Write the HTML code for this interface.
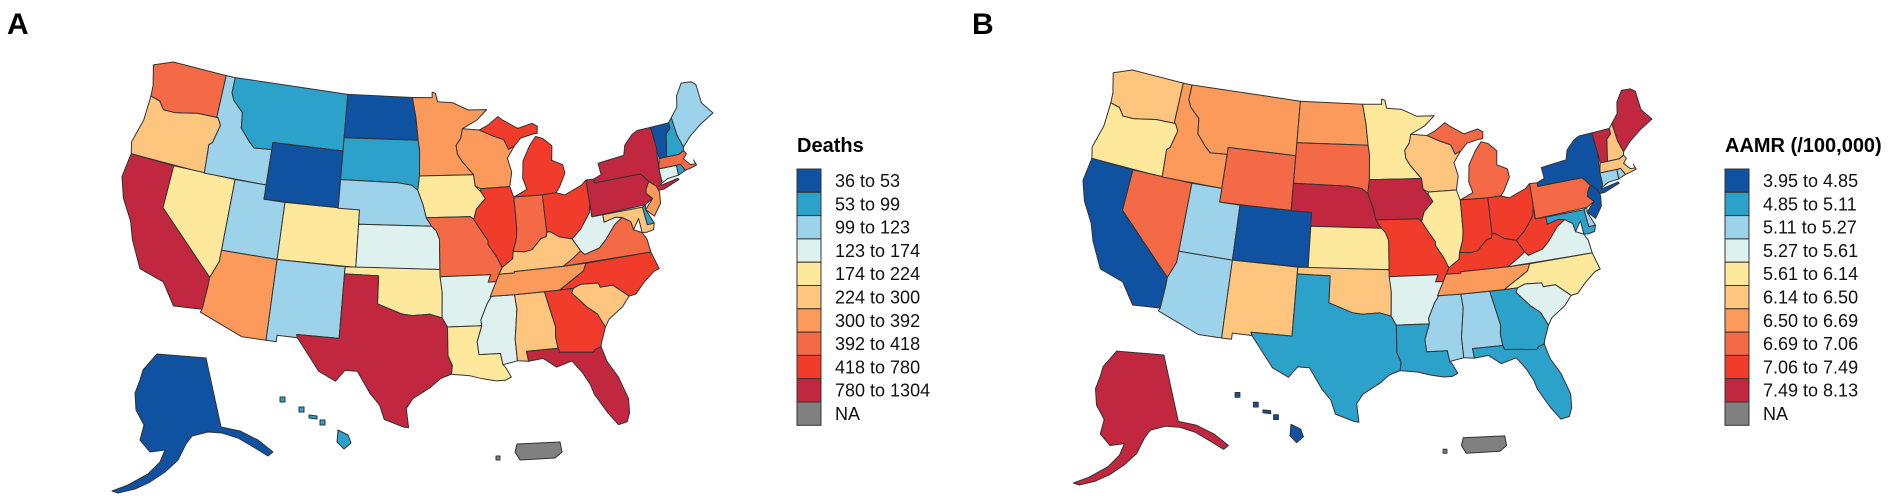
<!DOCTYPE html>
<html><head><meta charset="utf-8">
<style>
html,body{margin:0;padding:0;background:#fff;}
body{width:1902px;height:503px;overflow:hidden;font-family:"Liberation Sans",Arial,sans-serif;}
svg{display:block;}
</style></head>
<body>
<svg id="fig" width="1902" height="503" viewBox="0 0 1902 503" xmlns="http://www.w3.org/2000/svg">
<rect width="1902" height="503" fill="#fff"/>
<text x="7" y="34" font-size="30" font-weight="bold" font-family="Liberation Sans, Arial, sans-serif">A</text>
<text x="972" y="34" font-size="30" font-weight="bold" font-family="Liberation Sans, Arial, sans-serif">B</text>
<g id="mapA"></g>
<g id="mapB"></g>
<g id="legA"></g>
<g id="legB"></g>
</svg>
<script>
const states = ["WA","OR","CA","NV","ID","MT","WY","UT","CO","AZ","NM","ND","SD","NE","KS","OK","TX","MN","IA","MO","AR","LA","MS","AL","WI","IL","MI","MIU","IN","OH","KY","TN","WV","VA","NC","SC","GA","FL","PA","NY","NJ","DE","MD","CT","RI","MA","VT","NH","ME","AK","HI","PR"];
const deathsValues = [405,260,1100,200,110,80,45,115,210,350,105,40,70,105,150,200,1250,330,190,410,150,200,150,260,330,600,550,550,405,650,270,340,160,410,520,280,500,1200,900,950,330,70,270,160,70,410,40,70,110,45,75,null];
const aamrValues = [6.3,5.9,4.5,6.9,6.6,6.6,6.9,5.2,4.4,5.2,6.3,6.6,6.9,7.8,5.9,6.3,5.0,5.9,7.8,7.3,5.4,5.0,5.2,5.2,6.3,5.9,6.9,6.9,7.3,7.3,7.3,6.6,7.3,5.4,5.9,5.4,5.0,5.0,6.9,4.5,4.5,5.2,5.0,5.2,5.2,6.3,7.8,6.3,7.8,7.8,4.5,null];
const deathsBreaks = [36,53,99,123,174,224,300,392,418,780,1304];
const aamrBreaks = [3.95,4.85,5.11,5.27,5.61,6.14,6.50,6.69,7.06,7.49,8.13];
const deathsLabels = ["36 to 53","53 to 99","99 to 123","123 to 174","174 to 224","224 to 300","300 to 392","392 to 418","418 to 780","780 to 1304","NA"];
const aamrLabels = ["3.95 to 4.85","4.85 to 5.11","5.11 to 5.27","5.27 to 5.61","5.61 to 6.14","6.14 to 6.50","6.50 to 6.69","6.69 to 7.06","7.06 to 7.49","7.49 to 8.13","NA"];
const palette = ["#0f52a1","#2ca1c9","#9dd3ea","#dff1ee","#fee89b","#fdc57e","#fb9a5a","#f46a46","#f13c2b","#c1273e"];
const naColor = "#808080";

const geo = {
WA:[[-124.7,48.4],[-122.8,49],[-117.03,49],[-117.03,46.0],[-116.9,45.99],[-119,45.95],[-121.2,45.6],[-122.4,45.57],[-123.0,46.1],[-124.0,46.25],[-124.1,47.0]],
OR:[[-124.0,46.25],[-123.0,46.1],[-122.4,45.57],[-121.2,45.6],[-119,45.95],[-116.9,45.99],[-116.5,45.5],[-116.9,44.2],[-117.2,44.0],[-117.03,42],[-124.2,42],[-124.5,42.8],[-124.0,44.5]],
CA:[[-124.2,42],[-120,42],[-120,39],[-114.6,35.0],[-114.6,34.3],[-114.7,32.72],[-117.1,32.53],[-118.4,34.0],[-120.6,34.5],[-121.9,36.3],[-122.5,37.5],[-123.7,38.9],[-124.4,40.3]],
NV:[[-120,42],[-114.04,42],[-114.04,36.2],[-114.6,35.0],[-120,39]],
ID:[[-117.03,49],[-116.05,49],[-116.05,47.9],[-115.7,47.4],[-114.6,46.7],[-114.4,45.6],[-113.4,44.8],[-112.8,44.4],[-111.05,44.5],[-111.05,42],[-117.03,42],[-117.2,44.0],[-116.9,44.2],[-116.5,45.5],[-116.9,45.99],[-117.03,46.0]],
MT:[[-116.05,49],[-104.05,49],[-104.05,45],[-111.05,45],[-111.05,44.5],[-112.8,44.4],[-113.4,44.8],[-114.4,45.6],[-114.6,46.7],[-115.7,47.4],[-116.05,47.9]],
WY:[[-111.05,45],[-104.05,45],[-104.05,41],[-111.05,41]],
UT:[[-114.04,42],[-111.05,42],[-111.05,41],[-109.05,41],[-109.05,37],[-114.04,37]],
CO:[[-109.05,41],[-102.05,41],[-102.05,37],[-109.05,37]],
AZ:[[-114.04,37],[-109.05,37],[-109.05,31.33],[-111.07,31.33],[-114.8,32.5],[-114.7,32.72],[-114.6,34.3],[-114.6,35.0],[-114.04,36.2]],
NM:[[-109.05,37],[-103.0,37],[-103.06,32.0],[-106.6,32.0],[-106.5,31.78],[-108.2,31.78],[-108.2,31.33],[-109.05,31.33]],
ND:[[-104.05,49],[-97.23,49],[-96.85,47.6],[-96.6,46.0],[-104.05,45.94]],
SD:[[-104.05,45.94],[-96.6,46.0],[-96.45,45.3],[-96.45,43.5],[-96.6,42.5],[-97.2,42.85],[-98.5,43.0],[-104.05,43.0]],
NE:[[-104.05,43.0],[-98.5,43.0],[-97.2,42.85],[-96.6,42.5],[-96.1,41.5],[-95.8,40.6],[-95.3,40.0],[-102.05,40.0],[-102.05,41],[-104.05,41]],
KS:[[-102.05,40],[-95.3,40],[-94.9,39.7],[-94.6,39.1],[-94.6,37],[-102.05,37]],
OK:[[-103.0,37],[-94.6,37],[-94.43,35.4],[-94.48,33.64],[-95.5,33.9],[-97.0,33.8],[-97.9,33.9],[-99.5,34.4],[-100.0,34.56],[-100.0,36.5],[-103.0,36.5]],
TX:[[-103.0,36.5],[-100.0,36.5],[-100.0,34.56],[-99.5,34.4],[-97.9,33.9],[-97.0,33.8],[-95.5,33.9],[-94.48,33.64],[-94.04,33.0],[-94.04,31.0],[-93.7,30.3],[-93.8,29.7],[-94.7,29.4],[-95.5,28.8],[-96.9,28.0],[-97.4,27.3],[-97.2,25.95],[-97.6,26.0],[-99.1,26.5],[-99.5,27.5],[-100.3,28.3],[-101.4,29.8],[-102.4,29.8],[-103.1,29.0],[-104.5,29.6],[-106.5,31.78],[-106.6,32.0],[-103.06,32.0]],
MN:[[-97.23,49],[-95.15,49],[-95.15,49.38],[-94.8,49.3],[-94.6,48.7],[-93.0,48.6],[-91.4,48.05],[-89.5,48.0],[-90.6,47.3],[-92.1,46.75],[-92.3,46.1],[-92.8,45.6],[-92.7,45.0],[-92.3,44.5],[-91.2,43.5],[-96.45,43.5],[-96.45,45.3],[-96.6,46.0],[-96.85,47.6]],
IA:[[-96.45,43.5],[-91.2,43.5],[-91.1,42.7],[-90.6,42.3],[-90.2,41.8],[-91.1,41.1],[-91.4,40.4],[-91.7,40.6],[-95.8,40.6],[-96.1,41.5],[-96.6,42.5]],
MO:[[-95.8,40.6],[-91.7,40.6],[-91.4,40.4],[-90.7,39.5],[-90.2,38.9],[-90.2,38.6],[-89.5,37.7],[-89.1,36.95],[-89.4,36.5],[-89.7,36.0],[-90.4,36.0],[-90.15,36.5],[-94.6,36.5],[-94.6,39.1],[-94.9,39.7],[-95.3,40.0]],
AR:[[-94.6,36.5],[-90.15,36.5],[-90.4,36.0],[-89.7,36.0],[-90.1,35.1],[-90.6,34.5],[-91.2,33.4],[-91.15,33.0],[-94.04,33.0],[-94.48,33.64],[-94.43,35.4]],
LA:[[-94.04,33.0],[-91.15,33.0],[-91.6,31.9],[-91.5,31.0],[-89.75,31.0],[-89.6,30.2],[-89.4,30.0],[-89.0,29.3],[-89.5,29.1],[-90.2,29.1],[-91.3,29.3],[-92.3,29.55],[-93.8,29.7],[-93.7,30.3],[-94.04,31.0]],
MS:[[-91.15,33.0],[-91.2,33.4],[-90.6,34.5],[-90.1,35.1],[-90.3,35.0],[-88.2,35.0],[-88.1,34.0],[-88.45,31.9],[-88.4,30.4],[-89.6,30.2],[-89.75,31.0],[-91.5,31.0],[-91.6,31.9]],
AL:[[-88.2,35.0],[-85.6,35.0],[-85.0,32.5],[-85.1,31.8],[-85.0,31.0],[-87.6,31.0],[-87.5,30.3],[-88.4,30.4],[-88.45,31.9],[-88.1,34.0]],
WI:[[-92.1,46.75],[-90.4,46.6],[-89.0,46.1],[-88.0,45.8],[-87.6,45.1],[-87.0,45.3],[-87.8,44.5],[-87.5,43.5],[-87.8,42.5],[-90.6,42.5],[-91.1,42.7],[-91.2,43.5],[-92.3,44.5],[-92.7,45.0],[-92.8,45.6],[-92.3,46.1]],
IL:[[-90.6,42.5],[-87.8,42.5],[-87.5,41.7],[-87.5,39.6],[-87.6,38.9],[-88.0,38.0],[-88.1,37.5],[-89.1,36.95],[-89.5,37.7],[-90.2,38.6],[-90.2,38.9],[-90.7,39.5],[-91.4,40.4],[-91.1,41.1],[-90.2,41.8],[-90.6,42.3]],
MI:[[-87.5,41.76],[-84.8,41.7],[-83.5,41.73],[-83.1,42.1],[-82.4,43.0],[-82.5,43.6],[-83.5,44.0],[-83.3,45.0],[-84.1,45.6],[-84.8,45.8],[-85.5,45.2],[-86.3,44.2],[-86.5,43.0],[-86.2,42.2]],
MIU:[[-90.4,46.6],[-89.0,46.1],[-88.0,45.8],[-87.6,45.1],[-87.0,45.3],[-86.3,45.8],[-85.0,46.0],[-84.6,46.0],[-84.5,46.5],[-85.0,46.75],[-86.5,46.5],[-88.0,47.2],[-88.4,47.45],[-89.5,46.9]],
IN:[[-87.5,41.76],[-84.8,41.7],[-84.8,39.1],[-84.9,38.8],[-85.4,38.7],[-86.3,38.0],[-87.0,37.9],[-88.0,38.0],[-87.6,38.9],[-87.5,39.6]],
OH:[[-84.8,41.7],[-83.5,41.73],[-82.7,41.5],[-81.0,42.0],[-80.52,42.3],[-80.52,40.6],[-80.7,40.0],[-81.7,39.0],[-82.6,38.4],[-83.7,38.65],[-84.5,39.1],[-84.8,39.1]],
KY:[[-84.8,39.1],[-84.5,39.1],[-83.7,38.65],[-82.6,38.4],[-82.0,37.5],[-82.7,37.1],[-83.7,36.6],[-88.05,36.6],[-88.05,36.5],[-89.4,36.5],[-89.1,36.95],[-88.1,37.5],[-88.0,38.0],[-87.0,37.9],[-86.3,38.0],[-85.4,38.7],[-84.9,38.8]],
TN:[[-88.05,36.5],[-88.05,36.6],[-83.7,36.6],[-81.7,36.6],[-82.0,36.1],[-84.3,35.0],[-88.2,35.0],[-90.3,35.0],[-89.7,36.0],[-89.4,36.5]],
WV:[[-80.52,40.6],[-80.52,39.72],[-79.5,39.72],[-79.5,39.2],[-78.4,39.4],[-77.8,39.3],[-78.6,38.9],[-79.6,38.0],[-80.3,37.5],[-81.7,37.2],[-82.0,37.5],[-82.6,38.4],[-81.7,39.0],[-80.7,40.0]],
VA:[[-83.7,36.6],[-75.9,36.55],[-76.0,37.5],[-76.3,38.0],[-77.0,38.3],[-77.1,38.9],[-77.8,39.3],[-78.6,38.9],[-79.6,38.0],[-80.3,37.5],[-81.7,37.2],[-82.0,37.5],[-82.7,37.1]],
NC:[[-84.3,35.0],[-83.1,35.0],[-82.4,35.2],[-80.9,35.1],[-80.8,34.8],[-79.7,34.8],[-78.5,33.85],[-77.9,33.9],[-77.0,34.6],[-76.0,35.2],[-75.5,35.3],[-75.9,36.55],[-81.7,36.6],[-82.0,36.1]],
SC:[[-83.1,35.0],[-82.4,35.2],[-80.9,35.1],[-80.8,34.8],[-79.7,34.8],[-78.5,33.85],[-79.2,33.2],[-80.5,32.5],[-80.9,32.0],[-81.4,33.0],[-82.2,33.6],[-83.3,34.7]],
GA:[[-85.6,35.0],[-84.3,35.0],[-83.1,35.0],[-83.3,34.7],[-82.2,33.6],[-81.4,33.0],[-80.9,32.0],[-81.4,31.0],[-81.5,30.7],[-82.0,30.57],[-82.2,30.4],[-84.9,30.7],[-85.0,31.0],[-85.1,31.8],[-85.0,32.5]],
FL:[[-87.6,31.0],[-85.0,31.0],[-84.9,30.7],[-82.2,30.4],[-82.0,30.57],[-81.5,30.7],[-81.2,29.6],[-80.5,28.4],[-80.0,26.8],[-80.1,25.8],[-80.4,25.2],[-81.1,25.1],[-81.8,26.1],[-82.6,27.5],[-82.8,28.2],[-83.3,29.1],[-84.0,30.0],[-85.3,29.7],[-86.3,30.4],[-87.5,30.3]],
PA:[[-80.52,42.3],[-79.76,42.27],[-79.76,42.0],[-75.35,42.0],[-75.1,41.8],[-74.7,41.35],[-75.1,40.9],[-75.2,40.6],[-74.7,40.15],[-75.5,39.83],[-80.52,39.72]],
NY:[[-79.76,42.0],[-79.76,42.27],[-79.0,42.5],[-79.1,43.3],[-78.0,43.4],[-76.5,43.5],[-76.2,44.2],[-75.3,44.8],[-74.7,45.0],[-73.35,45.0],[-73.25,43.6],[-73.5,42.1],[-73.5,41.2],[-73.7,40.9],[-72.0,41.1],[-71.9,41.0],[-73.5,40.6],[-74.0,40.6],[-74.1,40.9],[-74.7,41.35],[-75.1,41.8],[-75.35,42.0]],
NJ:[[-74.7,41.35],[-74.1,40.9],[-74.0,40.6],[-73.95,40.45],[-74.1,39.7],[-74.9,38.93],[-75.55,39.5],[-74.7,40.15],[-75.2,40.6],[-75.1,40.9]],
DE:[[-75.8,39.72],[-75.5,39.83],[-75.55,39.5],[-75.05,38.45],[-75.7,38.45]],
MD:[[-79.5,39.72],[-75.8,39.72],[-75.7,38.45],[-75.05,38.45],[-75.25,38.03],[-75.9,37.95],[-76.3,38.0],[-76.35,39.0],[-77.0,38.3],[-77.1,38.9],[-77.8,39.3],[-78.4,39.4],[-79.5,39.2]],
CT:[[-73.5,42.05],[-71.8,42.0],[-71.85,41.3],[-72.9,41.25],[-73.7,40.98],[-73.5,41.2]],
RI:[[-71.8,42.0],[-71.4,42.0],[-71.1,41.5],[-71.85,41.3]],
MA:[[-73.5,42.05],[-73.25,42.75],[-71.3,42.7],[-70.8,42.87],[-70.6,42.6],[-71.0,42.3],[-70.5,41.8],[-70.0,41.75],[-70.1,42.05],[-69.95,41.65],[-70.6,41.55],[-71.1,41.5],[-71.4,42.0],[-71.8,42.0]],
VT:[[-73.35,45.0],[-71.5,45.0],[-71.5,44.6],[-72.0,44.3],[-72.5,42.73],[-73.25,42.75],[-73.25,43.6]],
NH:[[-71.5,45.0],[-71.1,45.3],[-71.0,44.0],[-70.7,43.1],[-70.8,42.87],[-71.3,42.7],[-72.5,42.73],[-72.0,44.3],[-71.5,44.6]],
ME:[[-71.1,45.3],[-70.3,45.9],[-70.0,46.7],[-69.2,47.45],[-68.2,47.35],[-67.8,47.07],[-67.8,45.7],[-67.0,44.8],[-68.5,44.3],[-69.8,43.7],[-70.7,43.1],[-71.0,44.0]]
};
// Inset shapes in local pixel units relative to map origin (panel A scale)
const insets = {
AK:[[[35,292],[84,296],[99,365],[118,369],[136,378],[151,390],[146,394],[133,386],[116,376],[100,371],[86,370],[70,374],[64,382],[56,398],[43,410],[28,420],[13,427],[-4,431],[-10,429],[6,423],[26,412],[38,400],[43,388],[28,390],[18,378],[22,363],[14,348],[13,331],[18,318],[21,308],[28,300]]],
HI:[[[158,335],[163,335],[163,340],[158,340]],[[177,345],[182,345],[182,350],[177,350]],[[187,353],[195,354],[195,357],[187,356]],[[198,358],[203,358],[203,363],[198,363]],[[216,368],[226,373],[229,381],[222,387],[215,380]]],
PR:[[[395,382],[438,380],[440,390],[433,396],[398,398],[393,390]],[[374,394],[378,394],[378,398],[374,398]]]
};

const N=(Math.sin(29.5*Math.PI/180)+Math.sin(45.5*Math.PI/180))/2;
const C0=Math.pow(Math.cos(29.5*Math.PI/180),2)+2*N*Math.sin(29.5*Math.PI/180);
const R0=Math.sqrt(C0-2*N*Math.sin(37.5*Math.PI/180))/N;
function albers(lon,lat){
  const r=Math.sqrt(C0-2*N*Math.sin(lat*Math.PI/180))/N;
  const t=N*(lon+96)*Math.PI/180;
  return [r*Math.sin(t), -(R0-r*Math.cos(t))];
}
let minX=1e9,maxX=-1e9,minY=1e9;
Object.values(geo).forEach(p=>p.forEach(([lo,la])=>{const [x,y]=albers(lo,la);minX=Math.min(minX,x);maxX=Math.max(maxX,x);minY=Math.min(minY,y);}));

function binIndex(v,breaks){
  if(v===null||v===undefined) return -1;
  for(let i=0;i<breaks.length-2;i++){ if(v<breaks[i+1]) return i; }
  return breaks.length-2;
}
const NS="http://www.w3.org/2000/svg";
function drawMap(gid, values, breaks, ox, oy, w, key){
  const g=document.getElementById(gid);
  const s=w/(maxX-minX);
  const sc=w/591;
  states.forEach((st,i)=>{
    const idx=binIndex(values[i],breaks);
    const fill= idx<0?naColor:palette[idx];
    let polys;
    if(geo[st]){
      polys=[geo[st].map(([lo,la])=>{const [x,y]=albers(lo,la);return [ox+(x-minX)*s, oy+(y-minY)*s];})];
    } else {
      polys=insets[st].map(p=>p.map(([x,y])=>[ox+x*sc, oy+y*sc]));
    }
    polys.forEach(pp=>{
      const el=document.createElementNS(NS,"path");
      el.setAttribute("d","M"+pp.map(q=>q[0].toFixed(1)+","+q[1].toFixed(1)).join("L")+"Z");
      el.setAttribute("fill",fill);
      el.setAttribute("stroke","#333");
      el.setAttribute("stroke-width","1");
      el.setAttribute("stroke-linejoin","round");
      
      
      g.appendChild(el);
    });
  });
}
function drawLegend(gid, title, labels, x, key){
  const g=document.getElementById(gid);
  const t=document.createElementNS(NS,"text");
  t.setAttribute("x",x);t.setAttribute("y",152);
  t.setAttribute("font-size","20");t.setAttribute("font-weight","bold");
  t.setAttribute("font-family","Liberation Sans, Arial, sans-serif");
  t.textContent=title;
  
  
  g.appendChild(t);
  labels.forEach((lab,i)=>{
    const y=169+i*23.3;
    const r=document.createElementNS(NS,"rect");
    r.setAttribute("x",x);r.setAttribute("y",y);r.setAttribute("width",24);r.setAttribute("height",23.3);
    r.setAttribute("fill", i<palette.length?palette[i]:naColor);
    r.setAttribute("stroke","#333");r.setAttribute("stroke-width","1");
    
    
    g.appendChild(r);
    const tx=document.createElementNS(NS,"text");
    tx.setAttribute("x",x+38);tx.setAttribute("y",y+18);
    tx.setAttribute("font-size","18");tx.setAttribute("fill","#111");
    tx.setAttribute("font-family","Liberation Sans, Arial, sans-serif");
    tx.textContent=lab;
    
    
    g.appendChild(tx);
  });
}
drawMap("mapA", deathsValues, deathsBreaks, 122, 62, 591, "deaths");
drawMap("mapB", aamrValues, aamrBreaks, 1083, 70, 569, "aamr");
drawLegend("legA","Deaths",deathsLabels,797,"deaths");
drawLegend("legB","AAMR (/100,000)",aamrLabels,1725,"aamr");
</script>
</body></html>
